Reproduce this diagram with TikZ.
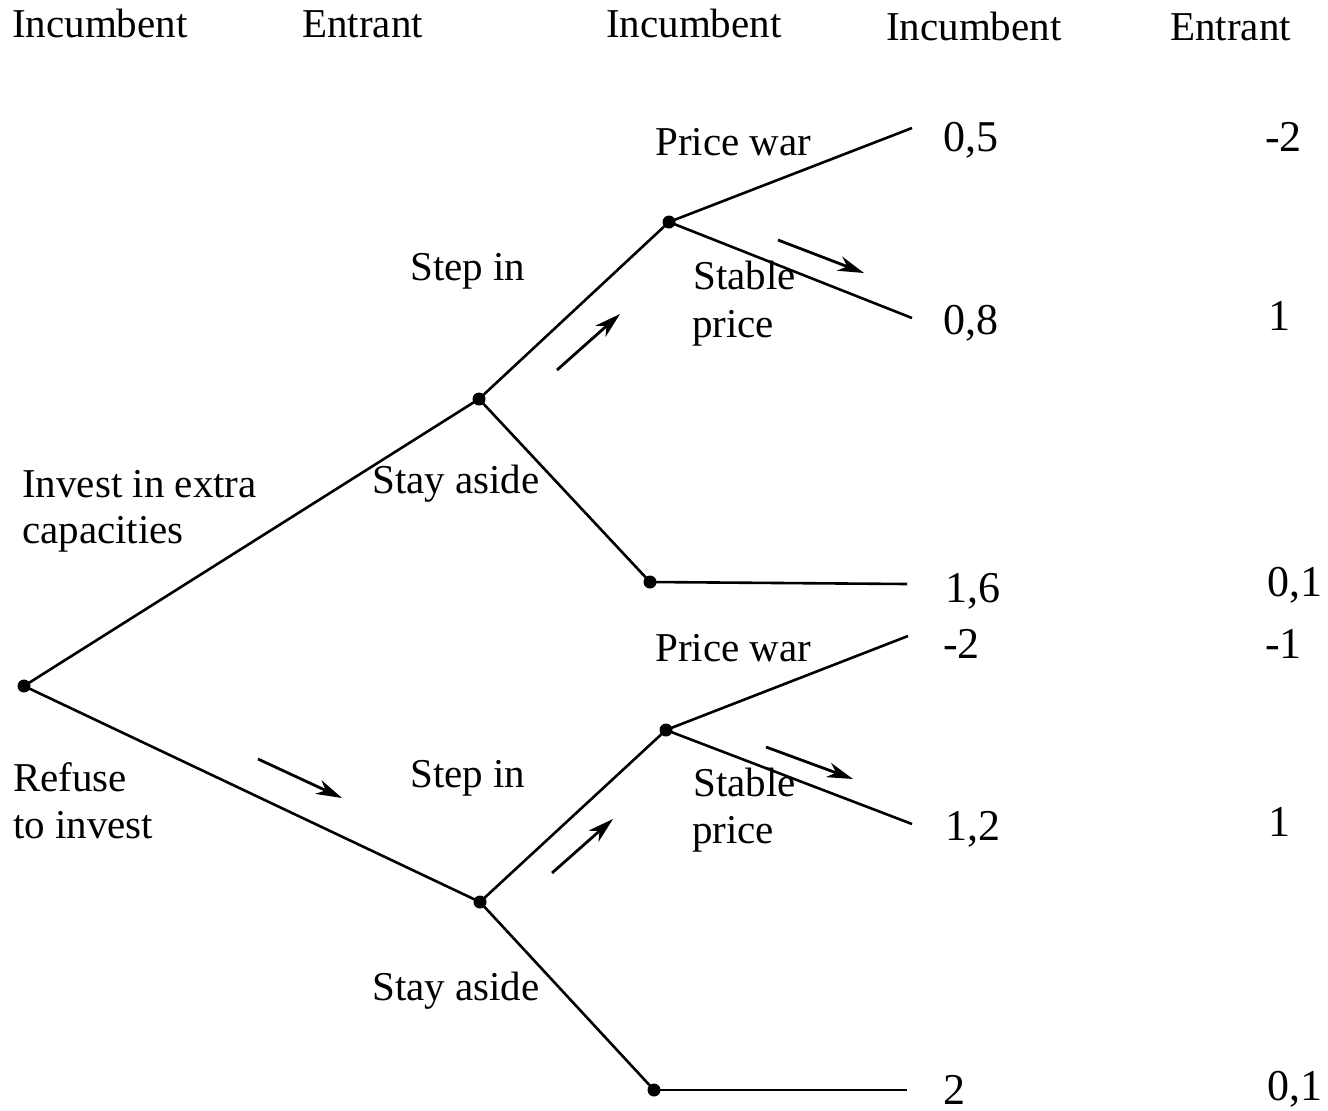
\documentclass[tikz,border=0pt]{standalone}
\usepackage{fontspec}
\setmainfont{Liberation Serif}
\usetikzlibrary{arrows.meta}
\begin{document}
\begin{tikzpicture}[x=1pt,y=-1pt,
  dot/.style={circle,fill=black,inner sep=0pt,minimum size=13pt},
  branch/.style={line width=2.6pt},
  hint/.style={line width=2.8pt,-{Stealth[length=26pt,width=15pt,inset=8pt]}},
  lbl/.style={anchor=base west,inner sep=0pt,font=\fontsize{41}{48}\selectfont},
  num/.style={anchor=base west,inner sep=0pt,font=\fontsize{44}{50}\selectfont}]
\useasboundingbox (0,0) rectangle (1328,1111);
% headers
\node[lbl] (h1) at (12,37) {Incumbent};
\node[lbl] (h2) at (302,37) {Entrant};
\node[lbl] (h3) at (606,37) {Incumbent};
\node[lbl] (h4) at (886,40) {Incumbent};
\node[lbl] (h5) at (1170,40) {Entrant};
% decision nodes
\node[dot] (R) at (24,686) {};
\node[dot] (A) at (479,399) {};
\node[dot] (B) at (480,902) {};
\node[dot] (C) at (669,222) {};
\node[dot] (D) at (650,582) {};
\node[dot] (E) at (666,730) {};
\node[dot] (F) at (654,1090) {};
% terminal points
\coordinate (t1) at (912,128);
\coordinate (t2) at (912,318);
\coordinate (t3) at (907,584);
\coordinate (t4) at (908,636);
\coordinate (t5) at (912,824);
\coordinate (t6) at (907,1090);
% branches
\draw[branch] (R.center) -- (A.center);
\draw[branch] (R.center) -- (B.center);
\draw[branch] (A.center) -- (C.center);
\draw[branch] (A.center) -- (D.center);
\draw[branch] (B.center) -- (E.center);
\draw[branch] (B.center) -- (F.center);
\draw[branch] (C.center) -- (t1);
\draw[branch] (C.center) -- (t2);
\draw[branch] (D.center) -- (t3);
\draw[branch] (E.center) -- (t4);
\draw[branch] (E.center) -- (t5);
\draw[branch] (F.center) -- (t6);
% equilibrium arrows
\coordinate (a1s) at (557,370); \coordinate (a1e) at (620,314);
\coordinate (a2s) at (778,240); \coordinate (a2e) at (864,273);
\coordinate (a3s) at (552,873); \coordinate (a3e) at (613,819);
\coordinate (a4s) at (766,747); \coordinate (a4e) at (853,779);
\coordinate (a5s) at (258,759); \coordinate (a5e) at (342,798);
\draw[hint] (a1s) -- (a1e);
\draw[hint] (a2s) -- (a2e);
\draw[hint] (a3s) -- (a3e);
\draw[hint] (a4s) -- (a4e);
\draw[hint] (a5s) -- (a5e);
% branch labels
\node[lbl] (l1) at (655,155) {Price war};
\node[lbl] (l2) at (410,280) {Step in};
\node[lbl] (l3) at (693,289) {Stable};
\node[lbl] (l4) at (692,337) {price};
\node[lbl] (l5) at (22,497) {Invest in extra};
\node[lbl] (l6) at (22,543) {capacities};
\node[lbl] (l7) at (372,493) {Stay aside};
\node[lbl] (l8) at (655,661) {Price war};
\node[lbl] (l9) at (13,791) {Refuse};
\node[lbl] (l10) at (13,838) {to invest};
\node[lbl] (l11) at (410,787) {Step in};
\node[lbl] (l12) at (693,796) {Stable};
\node[lbl] (l13) at (692,843) {price};
\node[lbl] (l14) at (372,1000) {Stay aside};
% payoffs
\node[num] (p1) at (943,151) {0,5};
\node[num] (q1) at (1265,151) {-2};
\node[num] (p2) at (943,334) {0,8};
\node[num] (q2) at (1268,330) {1};
\node[num] (p3) at (945,602) {1,6};
\node[num] (q3) at (1267,596) {0,1};
\node[num] (p4) at (943,658) {-2};
\node[num] (q4) at (1265,658) {-1};
\node[num] (p5) at (945,840) {1,2};
\node[num] (q5) at (1268,836) {1};
\node[num] (p6) at (943,1104) {2};
\node[num] (q6) at (1267,1100) {0,1};
\end{tikzpicture}
\end{document}
